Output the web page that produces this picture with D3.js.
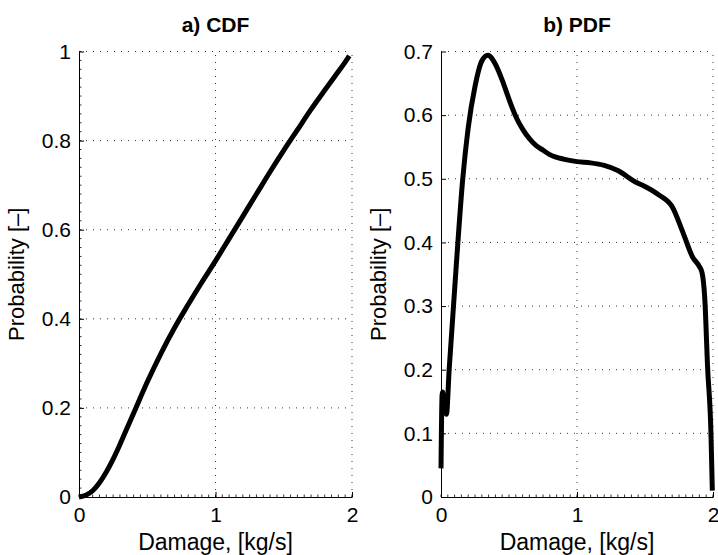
<!DOCTYPE html>
<html>
<head>
<meta charset="utf-8">
<script src="https://cdn.jsdelivr.net/npm/d3@7"></script>
<style>
  body { margin: 0; background: #fff; }
  text { font-family: "Liberation Sans", Arial, sans-serif; fill: #000; }
</style>
</head>
<body>
<div id="chart"></div>
<script>
// CDF values read off panel a)
const cdfX = [0, 0.05, 0.1, 0.15, 0.2, 0.25, 0.3, 0.35, 0.4, 0.5, 0.6, 0.7, 0.8, 0.9, 1.0,
  1.1, 1.2, 1.3, 1.4, 1.5, 1.6, 1.7, 1.8, 1.9, 1.95, 1.98];
const cdfY = [0, 0.004, 0.014, 0.032, 0.056, 0.085, 0.118, 0.153, 0.188, 0.258, 0.322, 0.38, 0.432,
  0.482, 0.53, 0.58, 0.63, 0.68, 0.73, 0.778, 0.824, 0.87, 0.913, 0.955, 0.976, 0.99];

// PDF values read off panel b)
const pdfX = [0, 0.008, 0.012, 0.02, 0.04, 0.06, 0.11, 0.16, 0.2, 0.25, 0.3, 0.345, 0.4, 0.45,
  0.5, 0.55, 0.6, 0.65, 0.7, 0.75, 0.8, 0.9, 1.0, 1.1, 1.2, 1.3, 1.43, 1.5, 1.6, 1.7, 1.78,
  1.85, 1.9, 1.92, 1.94, 1.96, 1.985, 1.995];
const pdfY = [0.045, 0.16, 0.165, 0.15, 0.13, 0.2, 0.357, 0.5, 0.58, 0.645, 0.685, 0.694, 0.68,
  0.655, 0.625, 0.598, 0.578, 0.563, 0.552, 0.545, 0.538, 0.531, 0.527, 0.525, 0.521, 0.513,
  0.495, 0.488, 0.475, 0.456, 0.415, 0.377, 0.362, 0.352, 0.31, 0.205, 0.1, 0.01];

const xTicks = [0, 1, 2];
const cdfTicks = [0, 0.2, 0.4, 0.6, 0.8, 1];
const pdfTicks = [0, 0.1, 0.2, 0.3, 0.4, 0.5, 0.6, 0.7];

const W = 718, H = 555;
const svg = d3.select("#chart").append("svg")
  .attr("width", W).attr("height", H);

function panel(opt) {
  const x = d3.scaleLinear().domain([0, 2]).range([opt.left, opt.left + opt.width]);
  const y = d3.scaleLinear().domain([0, opt.ymax]).range([497, 51.5]);
  const g = svg.append("g");

  // dotted grid
  g.selectAll(".gx").data(xTicks.filter(d => d > 0)).enter().append("line")
    .attr("x1", d => x(d)).attr("x2", d => x(d))
    .attr("y1", y(0)).attr("y2", y(opt.ymax))
    .attr("stroke", "#333").attr("stroke-width", 1).attr("stroke-dasharray", "1,6");
  g.selectAll(".gy").data(opt.ticks.filter(d => d > 0)).enter().append("line")
    .attr("x1", x(0)).attr("x2", x(2))
    .attr("y1", d => y(d)).attr("y2", d => y(d))
    .attr("stroke", "#333").attr("stroke-width", 1).attr("stroke-dasharray", "1,6");

  // axes (ticks inside, like the original)
  const ax = g.append("g").attr("transform", `translate(0,${y(0)})`)
    .call(d3.axisBottom(x).tickValues(xTicks).tickSizeInner(-5).tickSizeOuter(0)
      .tickPadding(10).tickFormat(d3.format("d")));
  const ay = g.append("g").attr("transform", `translate(${x(0)},0)`)
    .call(d3.axisLeft(y).tickValues(opt.ticks).tickSizeInner(-5).tickSizeOuter(0)
      .tickPadding(8).tickFormat(d => d === 0 || d === 1 ? d : d3.format(".1f")(d)));
  [ax, ay].forEach(a => {
    a.select(".domain").attr("stroke", "#000");
    a.selectAll("text").style("font-size", "21px").style("font-family", "Liberation Sans, Arial");
  });

  // minor ticks
  g.selectAll(".mx").data(d3.range(0, 2.0001, 0.05)).enter().append("line")
    .attr("x1", d => x(d)).attr("x2", d => x(d))
    .attr("y1", y(0)).attr("y2", y(0) - 2.5).attr("stroke", "#000").attr("stroke-width", 0.8);
  if (opt.minorY) {
    g.selectAll(".my").data(d3.range(0, opt.ymax + 1e-6, opt.minorY)).enter().append("line")
      .attr("x1", x(0)).attr("x2", x(0) + 2.5)
      .attr("y1", d => y(d)).attr("y2", d => y(d)).attr("stroke", "#000").attr("stroke-width", 0.8);
  }

  // curve
  const pts = opt.xs.map((d, i) => [d, opt.ys[i]]);
  g.append("path").datum(pts)
    .attr("fill", "none").attr("stroke", "#000").attr("stroke-width", 5)
    .attr("stroke-linejoin", "round")
    .attr("d", d3.line().x(d => x(d[0])).y(d => y(d[1])).curve(d3.curveMonotoneX));

  // labels
  g.append("text").attr("x", x(1)).attr("y", 32).attr("text-anchor", "middle")
    .style("font-size", "21px").style("font-weight", "bold").text(opt.title);
  g.append("text").attr("x", x(1)).attr("y", 550).attr("text-anchor", "middle")
    .style("font-size", "23px").text("Damage, [kg/s]");
  g.append("text").attr("transform", `translate(${opt.left - 55},${y(opt.ymax / 2)}) rotate(-90)`)
    .attr("text-anchor", "middle").style("font-size", "22px").text("Probability [–]");
}

panel({ left: 79, width: 273, ymax: 1, ticks: cdfTicks, minorY: 0.02,
  xs: cdfX, ys: cdfY, title: "a) CDF" });
panel({ left: 441, width: 272, ymax: 0.7, ticks: pdfTicks, minorY: 0,
  xs: pdfX, ys: pdfY, title: "b) PDF" });
</script>
</body>
</html>
